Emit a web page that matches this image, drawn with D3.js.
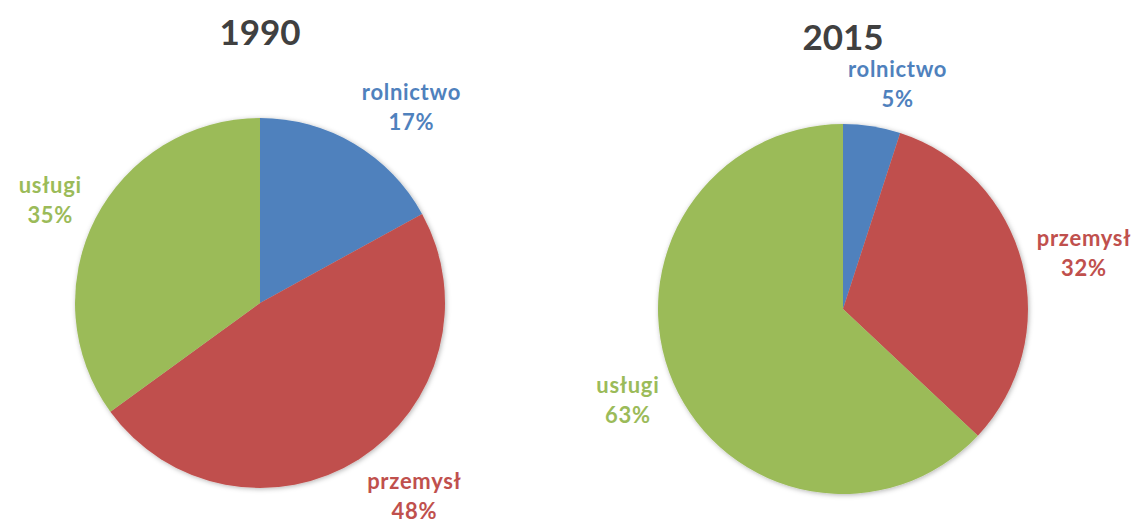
<!DOCTYPE html>
<html>
<head>
<meta charset="utf-8">
<script src="https://cdn.jsdelivr.net/npm/d3@7"></script>
<style>
  body { margin: 0; background: #fff; }
  svg { display: block; }
  .title { font-family: Lato, "Open Sans", sans-serif; font-weight: bold; font-size: 35px; fill: #404040; }
  .label { font-family: Lato, "Open Sans", sans-serif; font-weight: bold; font-size: 22px; letter-spacing: 0.7px; }
</style>
</head>
<body>
<svg class="mainsvg" width="1137" height="527"></svg>
<script>
var sectors = ["rolnictwo", "przemysł", "usługi"];
var colors = ["#4f81bd", "#c0504d", "#9bbb59"];

var years = ["1990", "2015"];
var shares1990 = [17, 48, 35];
var shares2015 = [5, 32, 63];

var width = 1137;
var height = 527;
var radius = 185;
var labelGap = 15;

var svg = d3.select(".mainsvg");

// soft shadow around the pies
var filter = svg.append("defs").append("filter")
    .attr("id", "shadow")
    .attr("x", "-10%").attr("y", "-10%")
    .attr("width", "120%").attr("height", "120%");
filter.append("feDropShadow")
    .attr("dx", 1).attr("dy", 1)
    .attr("stdDeviation", 2.5)
    .attr("flood-color", "#000")
    .attr("flood-opacity", 0.3);

var color = d3.scaleOrdinal().domain(sectors).range(colors);

// pie centres spread across the page
var xPos = d3.scalePoint().domain(years).range([260, 843]);
var yPos = d3.scaleOrdinal().domain(years).range([303, 309]);
var titleY = d3.scaleOrdinal().domain(years).range([45, 50]);

var pie = d3.pie().sort(null).value(function (d) { return d.value; });
var arc = d3.arc().innerRadius(0).outerRadius(radius);

var drawPie = function (year, values) {
    var data = sectors.map(function (s, i) { return { name: s, value: values[i] }; });
    var cx = xPos(year), cy = yPos(year);

    svg.append("text")
        .attr("class", "title")
        .attr("x", cx)
        .attr("y", titleY(year))
        .attr("text-anchor", "middle")
        .text(year);

    var g = svg.append("g")
        .attr("transform", "translate(" + cx + "," + cy + ")");

    g.append("g")
        .attr("filter", "url(#shadow)")
        .selectAll("path")
        .data(pie(data))
        .enter().append("path")
        .attr("d", arc)
        .attr("fill", function (d) { return color(d.data.name); });

    var label = g.selectAll(".label")
        .data(pie(data))
        .enter().append("text")
        .attr("class", "label")
        .attr("text-anchor", "middle")
        .attr("fill", function (d) { return color(d.data.name); });

    label.append("tspan")
        .attr("x", 0).attr("dy", 0)
        .text(function (d) { return d.data.name; });
    label.append("tspan")
        .attr("x", 0).attr("dy", 30)
        .text(function (d) { return d.data.value + "%"; });

    // best-fit style: box pushed sideways off a point just outside the slice middle
    label.each(function (d) {
        var el = d3.select(this);
        var box = this.getBBox();
        var a = (d.startAngle + d.endAngle) / 2;
        var sx = Math.sin(a), sy = -Math.cos(a);
        var r = radius + labelGap;
        var push = Math.min(1, Math.abs(sx) * 3) * (sx < 0 ? -1 : 1);
        var bx = r * sx + push * box.width / 2;
        var by = r * sy + sy * box.height / 2;
        var ox = bx - (box.x + box.width / 2);
        var oy = by - (box.y + box.height / 2);
        el.attr("transform", "translate(" + ox + "," + oy + ")");
    });
};

drawPie("1990", shares1990);
drawPie("2015", shares2015);
</script>
</body>
</html>
